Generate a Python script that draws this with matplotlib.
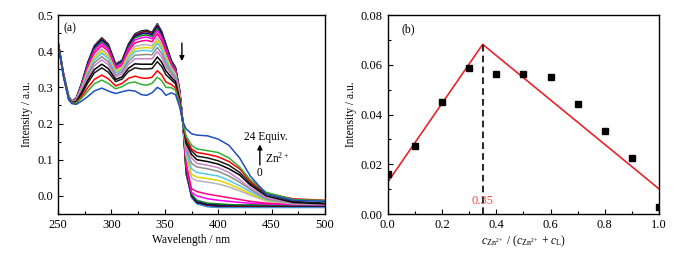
import numpy as np
import matplotlib
matplotlib.use('Agg')
import matplotlib.pyplot as plt
from matplotlib.ticker import MultipleLocator, FormatStrFormatter

plt.rcParams['font.family'] = ['Liberation Serif', 'DejaVu Serif']
plt.rcParams['mathtext.fontset'] = 'custom'
plt.rcParams['mathtext.rm'] = 'Liberation Serif'
plt.rcParams['mathtext.it'] = 'Liberation Serif:italic'

# (a) absorption spectra, 0 equiv (top) -> 24 equiv (bottom)
wavelength = [250, 255, 260, 263, 267, 272, 278, 284, 291, 297, 304, 310, 316, 322, 328, 333, 338,
              343, 347, 351, 356, 360, 364, 367, 370, 375, 380, 390, 400, 410, 420, 430, 445, 470, 500]

spectra = [
    [0.425, 0.340, 0.275, 0.262, 0.270, 0.310, 0.370, 0.415, 0.437, 0.420, 0.365, 0.375, 0.420, 0.448, 0.456, 0.458, 0.452,
     0.476, 0.455, 0.420, 0.375, 0.355, 0.290, 0.200, 0.060, 0.000, -0.020, -0.028, -0.030, -0.030, -0.030, -0.030, -0.030, -0.030, -0.030],
    [0.425, 0.340, 0.275, 0.262, 0.270, 0.309, 0.369, 0.413, 0.435, 0.418, 0.364, 0.374, 0.418, 0.446, 0.454, 0.455, 0.450,
     0.474, 0.453, 0.418, 0.374, 0.354, 0.290, 0.200, 0.065, -0.005, -0.022, -0.030, -0.032, -0.032, -0.032, -0.032, -0.032, -0.032, -0.032],
    [0.424, 0.339, 0.274, 0.262, 0.269, 0.309, 0.368, 0.412, 0.434, 0.417, 0.362, 0.373, 0.417, 0.445, 0.452, 0.455, 0.449,
     0.472, 0.452, 0.417, 0.373, 0.353, 0.290, 0.200, 0.070, 0.000, -0.018, -0.025, -0.027, -0.028, -0.028, -0.028, -0.028, -0.027, -0.027],
    [0.425, 0.339, 0.274, 0.261, 0.269, 0.308, 0.366, 0.410, 0.431, 0.414, 0.361, 0.371, 0.415, 0.441, 0.448, 0.450, 0.445,
     0.468, 0.448, 0.414, 0.371, 0.352, 0.288, 0.200, 0.075, 0.002, -0.016, -0.023, -0.025, -0.026, -0.026, -0.026, -0.026, -0.026, -0.026],
    [0.425, 0.339, 0.274, 0.261, 0.269, 0.307, 0.363, 0.406, 0.427, 0.411, 0.359, 0.369, 0.411, 0.437, 0.443, 0.445, 0.440,
     0.463, 0.443, 0.410, 0.369, 0.350, 0.287, 0.200, 0.080, 0.005, -0.012, -0.020, -0.022, -0.024, -0.025, -0.025, -0.025, -0.025, -0.025],
    [0.425, 0.339, 0.274, 0.261, 0.268, 0.305, 0.360, 0.402, 0.422, 0.406, 0.356, 0.366, 0.406, 0.431, 0.437, 0.439, 0.434,
     0.457, 0.438, 0.405, 0.365, 0.347, 0.285, 0.200, 0.085, 0.010, 0.000, -0.008, -0.012, -0.015, -0.018, -0.020, -0.022, -0.024, -0.025],
    [0.425, 0.338, 0.273, 0.261, 0.267, 0.302, 0.355, 0.395, 0.415, 0.400, 0.352, 0.361, 0.400, 0.423, 0.428, 0.430, 0.426,
     0.448, 0.429, 0.398, 0.361, 0.343, 0.283, 0.200, 0.090, 0.020, 0.012, 0.005, 0.000, -0.005, -0.010, -0.015, -0.020, -0.022, -0.024],
    [0.425, 0.338, 0.273, 0.260, 0.266, 0.299, 0.349, 0.387, 0.406, 0.391, 0.347, 0.356, 0.392, 0.413, 0.417, 0.418, 0.415,
     0.437, 0.419, 0.388, 0.355, 0.338, 0.280, 0.200, 0.110, 0.050, 0.042, 0.038, 0.033, 0.025, 0.014, 0.002, -0.014, -0.022, -0.024],
    [0.425, 0.337, 0.272, 0.260, 0.265, 0.297, 0.345, 0.382, 0.400, 0.385, 0.343, 0.352, 0.386, 0.406, 0.409, 0.410, 0.408,
     0.429, 0.412, 0.382, 0.351, 0.335, 0.278, 0.200, 0.115, 0.060, 0.052, 0.048, 0.043, 0.033, 0.020, 0.006, -0.012, -0.020, -0.022],
    [0.425, 0.337, 0.272, 0.260, 0.265, 0.295, 0.341, 0.376, 0.394, 0.380, 0.340, 0.348, 0.380, 0.399, 0.402, 0.402, 0.400,
     0.422, 0.405, 0.376, 0.347, 0.332, 0.275, 0.200, 0.120, 0.075, 0.065, 0.060, 0.055, 0.043, 0.028, 0.012, -0.010, -0.020, -0.022],
    [0.425, 0.336, 0.271, 0.259, 0.264, 0.292, 0.335, 0.368, 0.385, 0.371, 0.334, 0.343, 0.372, 0.389, 0.390, 0.391, 0.390,
     0.410, 0.394, 0.367, 0.341, 0.327, 0.272, 0.200, 0.130, 0.090, 0.080, 0.075, 0.068, 0.055, 0.038, 0.018, -0.008, -0.020, -0.022],
    [0.425, 0.336, 0.271, 0.259, 0.263, 0.289, 0.328, 0.360, 0.376, 0.363, 0.329, 0.337, 0.364, 0.379, 0.379, 0.379, 0.379,
     0.399, 0.384, 0.358, 0.336, 0.322, 0.270, 0.200, 0.135, 0.105, 0.090, 0.085, 0.078, 0.065, 0.045, 0.022, -0.005, -0.020, -0.022],
    [0.425, 0.335, 0.270, 0.258, 0.261, 0.285, 0.320, 0.349, 0.364, 0.352, 0.322, 0.329, 0.353, 0.365, 0.364, 0.364, 0.364,
     0.384, 0.370, 0.346, 0.328, 0.316, 0.265, 0.200, 0.145, 0.115, 0.100, 0.095, 0.088, 0.075, 0.058, 0.030, 0.000, -0.018, -0.022],
    [0.425, 0.334, 0.269, 0.258, 0.260, 0.281, 0.313, 0.340, 0.354, 0.342, 0.316, 0.323, 0.344, 0.354, 0.351, 0.351, 0.352,
     0.371, 0.358, 0.335, 0.321, 0.310, 0.262, 0.200, 0.150, 0.125, 0.110, 0.105, 0.097, 0.085, 0.065, 0.035, 0.005, -0.015, -0.020],
    [0.425, 0.333, 0.268, 0.257, 0.257, 0.274, 0.300, 0.322, 0.334, 0.324, 0.304, 0.311, 0.325, 0.331, 0.326, 0.325, 0.328,
     0.346, 0.335, 0.315, 0.308, 0.299, 0.258, 0.200, 0.160, 0.130, 0.120, 0.115, 0.108, 0.095, 0.075, 0.040, 0.008, -0.008, -0.012],
    [0.425, 0.332, 0.267, 0.256, 0.256, 0.270, 0.290, 0.310, 0.320, 0.311, 0.296, 0.302, 0.312, 0.315, 0.308, 0.306, 0.311,
     0.328, 0.319, 0.300, 0.299, 0.292, 0.252, 0.200, 0.165, 0.140, 0.130, 0.125, 0.120, 0.105, 0.080, 0.045, 0.010, -0.010, -0.013],
    [0.425, 0.330, 0.265, 0.255, 0.253, 0.262, 0.275, 0.290, 0.298, 0.290, 0.283, 0.288, 0.292, 0.290, 0.280, 0.278, 0.285,
     0.300, 0.293, 0.278, 0.285, 0.280, 0.245, 0.205, 0.185, 0.172, 0.168, 0.166, 0.157, 0.140, 0.105, 0.055, 0.005, -0.012, -0.015],
]
spectra_colors = ['#000000', '#3a8fd8', '#800000', '#000080', '#1a7a1a', '#ff00ff', '#ff0080',
                  '#b4b4b4', '#e6d200', '#55c8ea', '#8c8c8c', '#cc80cc', '#000000', '#1a1a1a',
                  '#ff0000', '#33b033', '#1f4fbf']

# (b) Job plot
mole_fraction = [0.0, 0.1, 0.2, 0.3, 0.4, 0.5, 0.6, 0.7, 0.8, 0.9, 1.0]
job_intensity = [0.0162, 0.0275, 0.0449, 0.0588, 0.0564, 0.0563, 0.0549, 0.0442, 0.0333, 0.0224, 0.0030]
fit_x = [0.0, 0.35, 1.0]
fit_y = [0.0128, 0.0682, 0.0101]
x_peak = 0.35

fig = plt.figure(figsize=(6.94, 2.57), dpi=100)
ax1 = fig.add_axes([0.0836, 0.1673, 0.3847, 0.7743])
ax2 = fig.add_axes([0.5587, 0.1673, 0.3909, 0.7743])

for vals, col in zip(spectra, spectra_colors):
    ax1.plot(wavelength, vals, color=col, lw=1.1)

ax1.set_xlim(250, 500)
ax1.set_ylim(-0.05, 0.5)
ax1.xaxis.set_major_locator(MultipleLocator(50))
ax1.xaxis.set_minor_locator(MultipleLocator(25))
ax1.yaxis.set_major_locator(MultipleLocator(0.1))
ax1.yaxis.set_minor_locator(MultipleLocator(0.05))
ax1.yaxis.set_major_formatter(FormatStrFormatter('%.1f'))
ax1.set_xlabel('Wavelength / nm', fontsize=8.3, labelpad=2)
ax1.set_ylabel('Intensity / a.u.', fontsize=8.3, labelpad=3)
ax1.text(255, 0.455, '(a)', fontsize=8.5)
ax1.annotate('', xy=(366, 0.365), xytext=(366, 0.43),
             arrowprops=dict(arrowstyle='-|>', color='k', lw=1, mutation_scale=7))
ax1.annotate('', xy=(439, 0.15), xytext=(439, 0.078),
             arrowprops=dict(arrowstyle='-|>', color='k', lw=1, mutation_scale=7))
ax1.text(424, 0.163, '24 Equiv.', fontsize=8.3, va='center')
ax1.text(444, 0.103, r'Zn$^{2+}$', fontsize=8.3, va='center')
ax1.text(439, 0.063, '0', fontsize=8.3, va='center', ha='center')

ax2.plot(fit_x, fit_y, color='#e8242a', lw=1.2)
ax2.plot([x_peak, x_peak], [0, fit_y[1]], color='k', lw=1.2, ls=(0, (4, 2.5)))
ax2.plot(mole_fraction, job_intensity, 's', color='k', ms=3.8, ls='none')
ax2.text(x_peak, 0.0052, '0.35', color='#ff4444', fontsize=9, ha='center', va='center')
ax2.text(0.05, 0.073, '(b)', fontsize=8.5)
ax2.set_xlim(0, 1)
ax2.set_ylim(0, 0.08)
ax2.xaxis.set_major_locator(MultipleLocator(0.2))
ax2.xaxis.set_minor_locator(MultipleLocator(0.1))
ax2.yaxis.set_major_locator(MultipleLocator(0.02))
ax2.yaxis.set_minor_locator(MultipleLocator(0.01))
ax2.yaxis.set_major_formatter(FormatStrFormatter('%.2f'))
ax2.xaxis.set_major_formatter(FormatStrFormatter('%.1f'))
ax2.set_xlabel(r'$c_{\mathrm{Zn}^{2+}}$ / ($c_{\mathrm{Zn}^{2+}}$ + $c_{\mathrm{L}}$)', fontsize=8.3, labelpad=2)
ax2.set_ylabel('Intensity / a.u.', fontsize=8.3, labelpad=3)

for ax in (ax1, ax2):
    ax.tick_params(which='both', direction='in', top=False, right=False, labelsize=9)
    ax.tick_params(which='major', length=3.5, width=0.8)
    ax.tick_params(which='minor', length=2, width=0.8)
    for sp in ax.spines.values():
        sp.set_linewidth(1.0)

fig.savefig('out.png', dpi=100)
